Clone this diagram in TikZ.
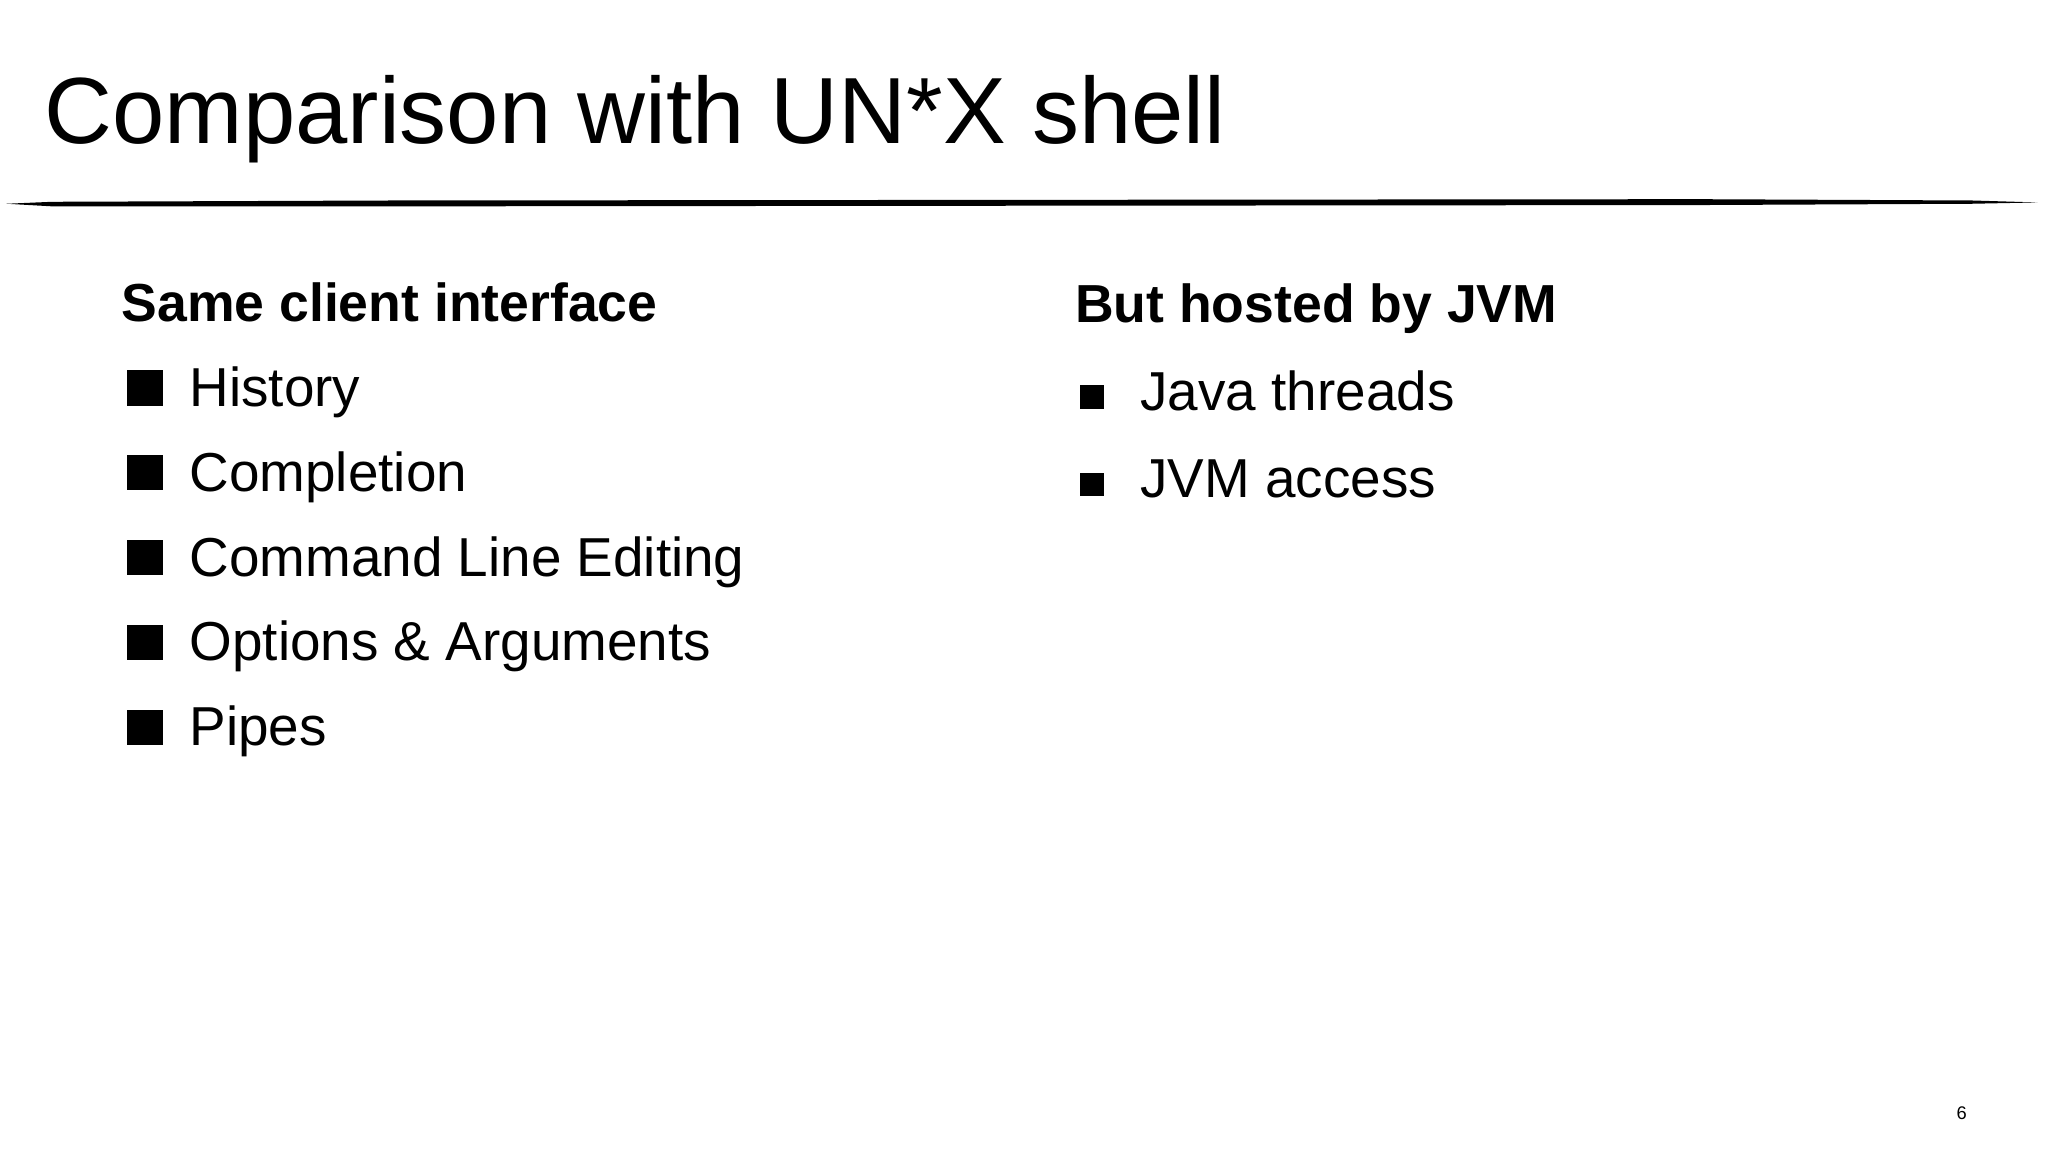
\documentclass[tikz,border=0pt]{standalone}
\usepackage{fontspec}
\setmainfont{Liberation Sans}
\begin{document}
\begin{tikzpicture}[x=1pt,y=-1pt,
  title/.style={anchor=base west,inner sep=0pt,font=\fontsize{72}{80}\selectfont},
  head/.style={anchor=base west,inner sep=0pt,font=\bfseries\fontsize{41}{48}\selectfont},
  item/.style={anchor=base west,inner sep=0pt,font=\fontsize{42}{48}\selectfont},
  bigsq/.style={fill=black,inner sep=0pt,minimum size=27pt},
  smallsq/.style={fill=black,inner sep=0pt,minimum size=18pt}]
\useasboundingbox (0,0) rectangle (1568,882);
\fill[white] (0,0) rectangle (1568,882);
\node[title] (t) at (34,110) {Comparison with UN*X shell};
% brush line
\fill[black] (5,156) -- (40,154.5) -- (300,153.5) -- (800,153) -- (1300,152.5) -- (1510,153.5) -- (1560,155)
  -- (1510,156) -- (1300,157) -- (800,157.5) -- (300,158) -- (40,158) -- cycle;
\node[head] (h1) at (93,246) {Same client interface};
\node[head] (h2) at (823,247) {But hosted by JVM};
\foreach \y/\t/\n in {311/History/a,376/Completion/b,441/Command Line Editing/c,506/Options \& Arguments/d,571/Pipes/e}{
  \node[bigsq] (s\n) at (111,\y-14) {};
  \node[item] (i\n) at (145,\y) {\t};
}
\foreach \y/\t/\n in {314/Java threads/f,381/JVM access/g}{
  \node[smallsq] (s\n) at (836,\y-10) {};
  \node[item] (i\n) at (873,\y) {\t};
}
\node[anchor=base,inner sep=0pt,font=\fontsize{14}{16}\selectfont] (pg) at (1502,857) {6};
\end{tikzpicture}
\end{document}
